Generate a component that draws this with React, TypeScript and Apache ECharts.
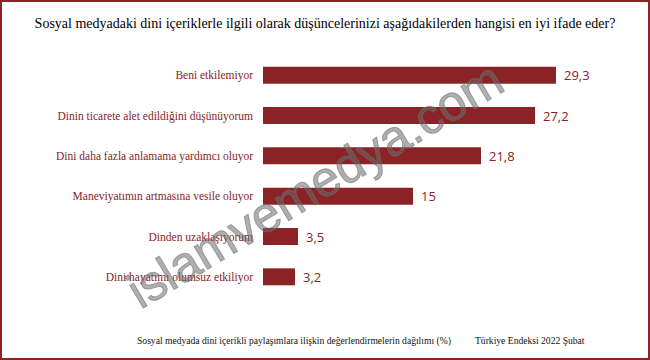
import React, { useEffect, useRef } from "react";
import * as echarts from "echarts";

const categories = [
  "Beni etkilemiyor",
  "Dinin ticarete alet edildiğini düşünüyorum",
  "Dini daha fazla anlamama yardımcı oluyor",
  "Maneviyatımın artmasına vesile oluyor",
  "Dinden uzaklaşıyorum",
  "Dini hayatımı olumsuz etkiliyor",
];
const values = [29.3, 27.2, 21.8, 15, 3.5, 3.2];

const titleText =
  "Sosyal medyadaki dini içeriklerle ilgili olarak düşüncelerinizi aşağıdakilerden hangisi en iyi ifade eder?";
const footerLeft =
  "Sosyal medyada dini içerikli paylaşımlara ilişkin değerlendirmelerin dağılımı (%)";
const footerRight = "Türkiye Endeksi 2022 Şubat";
const watermark = "islamvemedya.com";

const RED = "#8B2326";

export default function App() {
  const ref = useRef<HTMLDivElement>(null);
  useEffect(() => {
    document.body.style.margin = "0";
    const chart = echarts.init(ref.current!, null, { renderer: "svg" });
    chart.setOption({
      animation: false,
      backgroundColor: "#ffffff",
      grid: { left: 263, right: 37, top: 55, bottom: 63 },
      xAxis: {
        type: "value",
        min: 0,
        max: 35,
        show: false,
      },
      yAxis: {
        type: "category",
        data: categories,
        inverse: true,
        axisLine: { show: false },
        axisTick: { show: false },
        axisLabel: {
          color: RED,
          fontFamily: "Liberation Serif",
          fontSize: 11.5,
          margin: 10,
        },
      },
      series: [
        {
          type: "bar",
          data: values,
          barWidth: 17,
          itemStyle: { color: RED },
          label: {
            show: true,
            position: "right",
            distance: 8,
            color: RED,
            fontFamily: "Open Sans",
            fontSize: 13,
            formatter: (p: any) => String(p.value).replace(".", ","),
          },
        },
      ],
      graphic: [
        {
          type: "rect",
          shape: { x: 1, y: 1, width: 648, height: 358 },
          style: { fill: "none", stroke: RED, lineWidth: 2 },
          silent: true,
          z: 200,
        },
        {
          type: "text",
          left: "center",
          top: 16,
          style: {
            text: titleText,
            fill: "#000",
            font: "14px 'Liberation Serif'",
          },
        },
        {
          type: "text",
          left: 137,
          top: 335,
          style: {
            text: footerLeft,
            fill: "#111",
            font: "9.6px 'Liberation Serif'",
          },
        },
        {
          type: "text",
          left: 475,
          top: 335,
          style: {
            text: footerRight,
            fill: "#111",
            font: "9.6px 'Liberation Serif'",
          },
        },
        {
          type: "text",
          x: 315,
          y: 185,
          rotation: (31 * Math.PI) / 180,
          z: 100,
          style: {
            text: watermark,
            fill: "rgba(110,110,110,0.55)",
            font: "50px 'Liberation Sans'",
            align: "center",
            verticalAlign: "middle",
            stroke: "rgba(110,110,110,0.55)",
            lineWidth: 1,
          },
        },
      ],
    });
    return () => chart.dispose();
  }, []);
  return (
    <div
      ref={ref}
      style={{ width: 650, height: 360, position: "absolute", left: 0, top: 0 }}
    />
  );
}
